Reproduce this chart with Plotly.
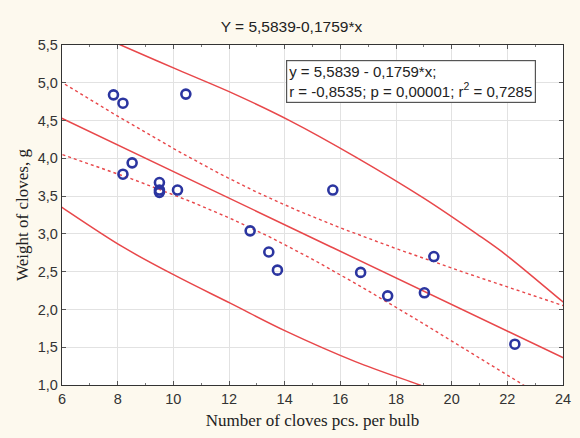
import numpy as np
import plotly.graph_objects as go

# Data
cloves_number = [7.85, 8.19, 10.45, 8.52, 8.19, 9.50, 9.50, 9.50, 10.15,
                 15.73, 12.76, 13.43, 13.74, 16.73, 19.36, 17.70, 19.02, 22.27]
cloves_weight = [4.84, 4.73, 4.85, 3.94, 3.79, 3.68, 3.58, 3.55, 3.58,
                 3.58, 3.04, 2.76, 2.52, 2.49, 2.70, 2.18, 2.22, 1.54]

# Regression coefficients as printed on the chart
intercept = 5.5839
slope = -0.1759

# Outer (solid) band curves
upper_band_x = [7.50, 8.11, 10.17, 12.20, 14.18, 16.54, 19.01, 20.90, 21.96, 23.90, 24.20]
upper_band_y = [5.60, 5.50, 5.17, 4.85, 4.50, 4.02, 3.47, 3.00, 2.72, 2.13, 2.04]
lower_band_x = [5.80, 6.00, 8.17, 10.11, 12.06, 14.06, 16.54, 18.85, 19.50]
lower_band_y = [3.40, 3.35, 2.83, 2.44, 2.08, 1.71, 1.31, 1.00, 0.91]

title_text = "Y = 5,5839-0,1759*x"
stats_line1 = "y = 5,5839 - 0,1759*x;"
stats_line2 = "r = -0,8535; p = 0,00001; r<sup>2</sup> = 0,7285"
x_ticks = [6, 8, 10, 12, 14, 16, 18, 20, 22, 24]
y_ticks = [1.0, 1.5, 2.0, 2.5, 3.0, 3.5, 4.0, 4.5, 5.0, 5.5]

# 95% confidence band of the regression line (from the data)
x = np.array(cloves_number)
y = np.array(cloves_weight)
n = len(x)
resid = y - (intercept + slope * x)
s = np.sqrt(np.sum(resid ** 2) / (n - 2))
t_crit = 2.120
xbar = x.mean()
sxx = np.sum((x - xbar) ** 2)
xs = np.linspace(5, 25, 200)
yhat = intercept + slope * xs
ci = t_crit * s * np.sqrt(1 / n + (xs - xbar) ** 2 / sxx)

red = "#e8474a"
fig = go.Figure()
line_opts = dict(mode="lines", hoverinfo="skip", showlegend=False)
fig.add_trace(go.Scatter(x=xs, y=yhat, line=dict(color=red, width=1.5), **line_opts))
fig.add_trace(go.Scatter(x=xs, y=yhat + ci, line=dict(color=red, width=1.4, dash="dot"), **line_opts))
fig.add_trace(go.Scatter(x=xs, y=yhat - ci, line=dict(color=red, width=1.4, dash="dot"), **line_opts))
fig.add_trace(go.Scatter(x=upper_band_x, y=upper_band_y,
                         line=dict(color=red, width=1.5, shape="spline", smoothing=1.0), **line_opts))
fig.add_trace(go.Scatter(x=lower_band_x, y=lower_band_y,
                         line=dict(color=red, width=1.5, shape="spline", smoothing=1.0), **line_opts))
fig.add_trace(go.Scatter(
    x=cloves_number, y=cloves_weight, mode="markers", showlegend=False,
    marker=dict(symbol="circle-open", size=9, color="#2b35a0", line=dict(width=2.6, color="#2b35a0")),
))

def fmt(v, d):
    return f"{v:.{d}f}".replace(".", ",")

tick_font = dict(family="Arial, Liberation Sans", size=14.5, color="#333")
serif = dict(family="Liberation Serif, Times New Roman", size=17, color="#222")

fig.update_layout(
    width=580, height=438,
    margin=dict(l=62, r=9, t=45, b=53),
    paper_bgcolor="#fdf9ee",
    plot_bgcolor="#ffffff",
    title=dict(text=title_text, x=0.458, xref="paper", xanchor="center", y=0.94, yanchor="middle",
               font=dict(family="Arial, Liberation Sans", size=15.5, color="#222")),
    xaxis=dict(range=[6, 24], tickvals=x_ticks, ticktext=[str(v) for v in x_ticks],
               showgrid=True, gridcolor="#e2e2e2", gridwidth=1, zeroline=False,
               showline=True, linecolor="#333", linewidth=1.3, mirror="ticks",
               ticks="inside", ticklen=4, tickcolor="#555",
               minor=dict(dtick=1, ticks="inside", ticklen=2, tickcolor="#777", showgrid=False),
               tickfont=tick_font,
               title=dict(text="Number of cloves pcs. per bulb", standoff=8, font=serif)),
    yaxis=dict(range=[1.0, 5.5], tickvals=y_ticks, ticktext=[fmt(v, 1) for v in y_ticks],
               showgrid=True, gridcolor="#e2e2e2", gridwidth=1, zeroline=False,
               showline=True, linecolor="#333", linewidth=1.3, mirror="ticks",
               ticks="inside", ticklen=4, tickcolor="#555",
               tickfont=tick_font,
               title=dict(text="Weight of cloves, g", standoff=4, font=serif)),
)

fig.add_annotation(
    xref="paper", yref="paper", x=0.448, y=0.955, xanchor="left", yanchor="top",
    text=stats_line1 + "<br>" + stats_line2, align="left", showarrow=False,
    font=dict(family="Arial, Liberation Sans", size=15, color="#222"),
    bgcolor="#ffffff", bordercolor="#555", borderwidth=1.2, borderpad=2,
)

fig.write_html("out.html")
